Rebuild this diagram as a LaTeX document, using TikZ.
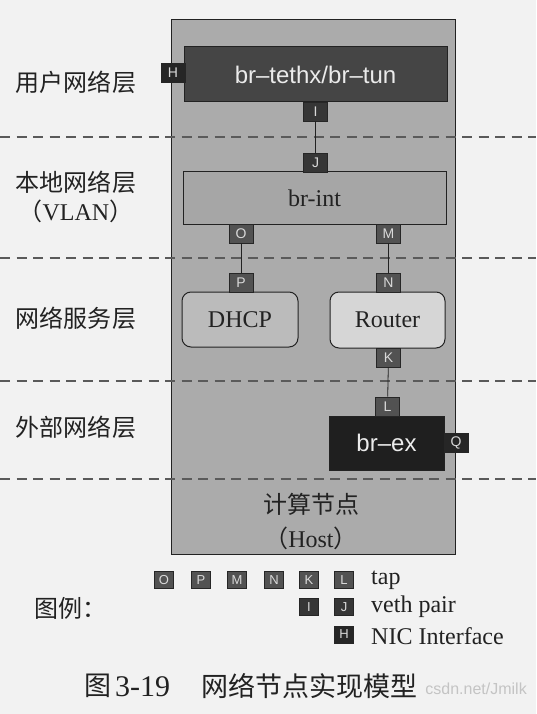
\documentclass[tikz,border=0pt]{standalone}
\usepackage{fontspec}
\setmainfont{Liberation Serif}
\setsansfont{Liberation Sans}
\newfontfamily\cjk{Noto Sans CJK SC}
\definecolor{pagebg}{HTML}{F2F2F2}
\definecolor{hostgray}{HTML}{ABABAB}
\definecolor{tungray}{HTML}{454545}
\definecolor{intgray}{HTML}{A6A6A6}
\definecolor{dhcpgray}{HTML}{BBBBBB}
\definecolor{routergray}{HTML}{D6D6D6}
\definecolor{exgray}{HTML}{1F1F1F}
\definecolor{tapgray}{HTML}{525252}
\definecolor{vethgray}{HTML}{363636}
\definecolor{nicgray}{HTML}{262626}
\definecolor{txt}{HTML}{222222}
\definecolor{dashgray}{HTML}{5A5A5A}
\definecolor{wmark}{HTML}{C4C4C4}
\tikzset{
  hostbox/.style={draw=txt, line width=1pt, fill=hostgray},
  layerline/.style={draw=dashgray, line width=1.6pt, dash pattern=on 10pt off 6.5pt},
  bridgebox/.style={rectangle, draw=txt, line width=1pt, inner sep=0pt},
  svcbox/.style={rectangle, rounded corners=9pt, draw=txt, line width=1pt, inner sep=0pt,
    font=\rmfamily\fontsize{24}{24}\selectfont, text=txt},
  tapport/.style={rectangle, fill=tapgray, draw=black!85, line width=0.6pt,
    minimum width=24pt, minimum height=19pt, inner sep=0pt, text=white!85!black,
    font=\sffamily\fontsize{14}{14}\selectfont},
  vethport/.style={tapport, fill=vethgray},
  nicport/.style={tapport, fill=nicgray},
  lgtap/.style={tapport, minimum width=19pt, minimum height=17pt, font=\sffamily\fontsize{13}{13}\selectfont},
  lgveth/.style={lgtap, fill=vethgray},
  lgnic/.style={lgtap, fill=nicgray},
  link/.style={draw=txt, line width=0.8pt},
  layerlabel/.style={font=\cjk\fontsize{24}{24}\selectfont, text=txt, inner sep=0pt},
  legendtext/.style={font=\rmfamily\fontsize{24}{24}\selectfont, text=txt, inner sep=0pt, anchor=west}
}
\begin{document}
\begin{tikzpicture}[x=1pt,y=-1pt]
\useasboundingbox (0,0) rectangle (536,714);
\fill[pagebg] (0,0) rectangle (536,714);

% host
\draw[hostbox] (171,20) rectangle (455,554);

% layer separators
\foreach \yy in {137,258,381,479}
  \draw[layerline] (0,\yy) -- (536,\yy);

% layer labels
\node[layerlabel] (lu) at (76,82) {用户网络层};
\node[layerlabel] (ll) at (76,182) {本地网络层};
\node[inner sep=0pt, text=txt] (lv) at (76,211) {{\cjk\fontsize{24}{24}\selectfont （}{\rmfamily\fontsize{24}{24}\selectfont VLAN}{\cjk\fontsize{24}{24}\selectfont ）}};
\node[layerlabel] (ls) at (76,318) {网络服务层};
\node[layerlabel] (le) at (76,427) {外部网络层};

% bridges and services
\node[bridgebox, fill=tungray, minimum width=263pt, minimum height=55pt,
  text=white!92!black, font=\sffamily\fontsize{24}{24}\selectfont] (tun) at (315.5,74.5) {br\textendash tethx/br\textendash tun};
\node[bridgebox, fill=intgray, minimum width=263pt, minimum height=52pt,
  text=txt, font=\rmfamily\fontsize{24}{24}\selectfont] (int) at (314.5,198) {br-int};
\node[svcbox, fill=dhcpgray, minimum width=116pt, minimum height=55pt] (dhcp) at (240,319.5) {DHCP};
\node[svcbox, fill=routergray, minimum width=115pt, minimum height=56pt] (router) at (387.5,320) {Router};
\node[bridgebox, fill=exgray, minimum width=115pt, minimum height=54pt,
  text=white!92!black, font=\sffamily\fontsize{24}{24}\selectfont] (brex) at (386.5,443) {br\textendash ex};

% ports
\node[nicport] (pH) at (173,73) {H};
\node[vethport] (pI) at (315.5,111.5) {I};
\node[vethport] (pJ) at (315.5,162.5) {J};
\node[tapport] (pO) at (241,233.5) {O};
\node[tapport] (pM) at (388.5,233.5) {M};
\node[tapport] (pP) at (241,282.5) {P};
\node[tapport] (pN) at (388.5,282.5) {N};
\node[tapport] (pK) at (388.5,357.5) {K};
\node[tapport] (pL) at (387.5,406.5) {L};
\node[nicport] (pQ) at (456,443) {Q};

% links
\draw[link] (pI) -- (pJ);
\draw[link] (pO) -- (pP);
\draw[link] (pM) -- (pN);
\draw[link] (pK) -- (pL);

% host caption
\node[font=\cjk\fontsize{24}{24}\selectfont, text=txt, inner sep=0pt] (hostcn) at (311,504) {计算节点};
\node[inner sep=0pt, text=txt] (hosten) at (311,538) {{\cjk\fontsize{24}{24}\selectfont （}{\rmfamily\fontsize{24}{24}\selectfont Host}{\cjk\fontsize{24}{24}\selectfont ）}};

% legend
\node[lgtap] (lO) at (164,580) {O};
\node[lgtap] (lP) at (201,580) {P};
\node[lgtap] (lM) at (237,580) {M};
\node[lgtap] (lN) at (274,580) {N};
\node[lgtap] (lK) at (309,580) {K};
\node[lgtap] (lL) at (344,580) {L};
\node[legendtext] (ttap) at (371,580) {tap};
\node[lgveth] (lI) at (309,607) {I};
\node[lgveth] (lJ) at (344,607) {J};
\node[legendtext] (tveth) at (371,607) {veth pair};
\node[lgnic] (lH) at (344,634.5) {H};
\node[legendtext] (tnic) at (371,636) {NIC Interface};
\node[font=\cjk\fontsize{24}{24}\selectfont, text=txt, inner sep=0pt] (lgd) at (70,608) {图例：};

% watermark
\node[font=\sffamily\fontsize{16}{16}\selectfont, text=wmark, inner sep=0pt, anchor=east] (wm) at (527,689) {csdn.net/Jmilk};

% figure caption
\node[inner sep=0pt, anchor=west, text=txt, font=\cjk\fontsize{27}{27}\selectfont] (cap0) at (84,686) {图};
\node[inner sep=0pt, anchor=west, text=txt, font=\rmfamily\fontsize{30}{30}\selectfont] (cap1) at (115,687) {3-19};
\node[inner sep=0pt, anchor=west, text=txt, font=\cjk\fontsize{27}{27}\selectfont] (cap2) at (201,686) {网络节点实现模型};
\end{tikzpicture}
\end{document}
